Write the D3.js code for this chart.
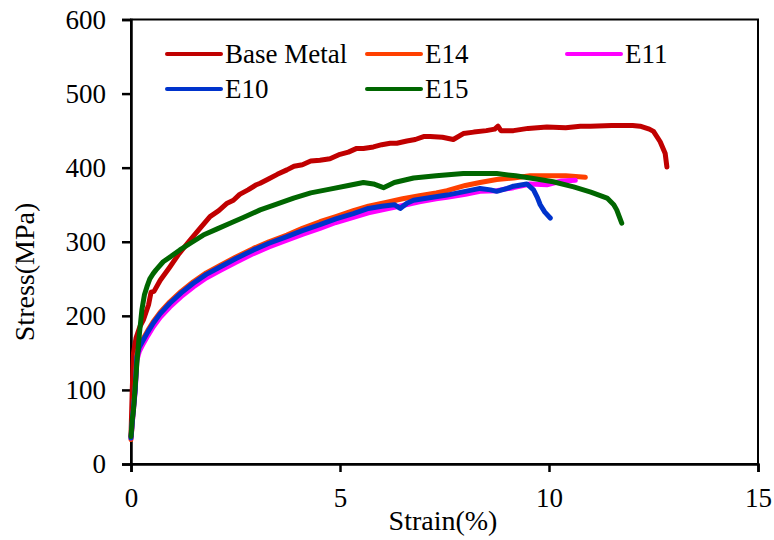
<!DOCTYPE html>
<html>
<head>
<meta charset="utf-8">
<script src="https://cdn.jsdelivr.net/npm/d3@7"></script>
</head>
<body style="margin:0">
<svg id="chart" width="774" height="540"></svg>
<script>
// strain (%) , stress (MPa)
const baseMetal = [[0,38],[0.03,100],[0.06,150],[0.12,170],[0.21,185],[0.3,195],[0.42,215],[0.48,232],[0.55,233],[0.7,248],[0.93,266],[1.15,284],[1.41,302],[1.65,318],[1.89,334],[2.1,342],[2.3,352],[2.45,356],[2.6,364],[2.8,370],[3.0,377],[3.09,379],[3.3,385],[3.5,391],[3.73,397],[3.9,402],[4.1,404],[4.3,409],[4.52,410],[4.76,412],[5.0,418],[5.2,421],[5.4,426],[5.56,426],[5.8,428],[6.0,431],[6.2,433],[6.36,433],[6.6,436],[6.8,438],[7.0,442],[7.16,442],[7.45,441],[7.71,438],[7.95,446],[8.2,448],[8.5,450],[8.7,452],[8.78,456],[8.85,450],[9.15,450],[9.5,453],[9.95,455],[10.4,454],[10.75,456],[10.99,456],[11.5,457],[12.0,457],[12.18,456],[12.4,452],[12.5,449],[12.66,435],[12.78,419],[12.82,401]];
const e14 = [[0,33],[0.05,70],[0.1,105],[0.14,148],[0.2,160],[0.29,169],[0.4,180],[0.53,192],[0.7,205],[0.93,219],[1.2,233],[1.49,246],[1.8,258],[2.13,268],[2.5,279],[2.93,291],[3.3,300],[3.73,309],[4.1,318],[4.52,327],[4.9,334],[5.32,342],[5.68,348],[6.1,353],[6.5,358],[6.9,362],[7.3,366],[7.56,369],[8.0,376],[8.35,380],[8.75,384],[9.15,386],[9.55,389],[10.0,389],[10.4,389],[10.87,387]];
const e11 = [[0,35],[0.05,68],[0.1,98],[0.14,140],[0.2,152],[0.29,162],[0.4,173],[0.53,185],[0.7,198],[0.93,212],[1.2,226],[1.49,239],[1.8,251],[2.13,261],[2.5,272],[2.93,284],[3.3,293],[3.73,302],[4.1,310],[4.52,318],[4.9,326],[5.32,333],[5.68,339],[6.1,344],[6.5,349],[6.9,354],[7.3,358],[7.56,360],[8.0,364],[8.35,368],[8.75,369],[9.15,373],[9.55,378],[9.95,377],[10.3,382],[10.63,383]];
const e10 = [[0,35],[0.05,70],[0.1,100],[0.14,145],[0.2,158],[0.29,167],[0.4,178],[0.53,190],[0.7,203],[0.93,217],[1.2,231],[1.49,244],[1.8,256],[2.13,266],[2.5,277],[2.93,289],[3.3,298],[3.73,307],[4.1,315],[4.52,323],[4.9,331],[5.32,338],[5.68,345],[6.0,348],[6.3,350],[6.44,345],[6.6,352],[6.76,356],[7.1,359],[7.56,363],[8.0,368],[8.35,372],[8.6,370],[8.75,368],[9.0,372],[9.15,375],[9.47,378],[9.63,370],[9.72,360],[9.79,350],[9.9,340],[10.03,332]];
const e15 = [[0,37],[0.03,60],[0.06,73],[0.1,105],[0.14,136],[0.2,175],[0.26,208],[0.32,228],[0.38,239],[0.45,250],[0.53,257],[0.6,262],[0.77,273],[0.95,280],[1.17,289],[1.45,299],[1.73,309],[2.05,317],[2.37,325],[2.7,333],[3.09,343],[3.45,350],[3.89,359],[4.3,366],[4.76,371],[5.2,376],[5.56,380],[5.8,378],[6.04,373],[6.3,380],[6.76,386],[7.3,389],[7.95,392],[8.75,392],[9.2,389],[9.55,386],[10.1,381],[10.59,374],[11.0,367],[11.39,359],[11.55,350],[11.62,343],[11.74,325]];

const seriesNames = ['Base Metal', 'E14', 'E11', 'E10', 'E15'];
const seriesData = [baseMetal, e14, e11, e10, e15];
const seriesColors = ['#C00000', '#FF4000', '#FF00FF', '#0033CC', '#006600'];
const xTicks = [0, 5, 10, 15];
const yTicks = [0, 100, 200, 300, 400, 500, 600];

const width = 774, height = 540;
const margin = { top: 19.5, right: 16, bottom: 76, left: 131 };
const innerWidth = width - margin.left - margin.right;
const innerHeight = height - margin.top - margin.bottom;

const svg = d3.select('#chart');
const g = svg.append('g').attr('transform', `translate(${margin.left},${margin.top})`);

const x = d3.scaleLinear().domain([0, 15]).range([0, innerWidth]);
const y = d3.scaleLinear().domain([0, 600]).range([innerHeight, 0]);

// frame (top / right)
g.append('rect')
  .attr('width', innerWidth).attr('height', innerHeight)
  .attr('fill', 'none').attr('stroke', '#000').attr('stroke-width', 2);

// axes
const xAxis = g.append('g').attr('transform', `translate(0,${innerHeight})`)
  .call(d3.axisBottom(x).tickValues(xTicks).tickSize(8).tickPadding(16));
const yAxis = g.append('g')
  .call(d3.axisLeft(y).tickValues(yTicks).tickSize(9).tickPadding(16));

[xAxis, yAxis].forEach(a => {
  a.selectAll('path, line').attr('stroke', '#000').attr('stroke-width', 2.5);
  a.selectAll('text')
    .style('font-family', d => '"Times New Roman"')
    .style('font-size', '27px')
    .attr('fill', '#000');
});

// lines
const line = d3.line().x(d => x(d[0])).y(d => y(d[1]));
g.selectAll('.curve')
  .data(seriesData)
  .enter()
  .append('path')
  .attr('class', 'curve')
  .attr('d', line)
  .attr('fill', 'none')
  .attr('stroke', (d, i) => seriesColors[i])
  .attr('stroke-width', 5)
  .attr('stroke-linejoin', 'round')
  .attr('stroke-linecap', 'round');

// axis titles
const titles = [
  { text: 'Strain(%)', transform: 'translate(443,530)' },
  { text: 'Stress(MPa)', transform: 'translate(34,272) rotate(-90)' }
];
svg.selectAll('.title')
  .data(titles)
  .enter()
  .append('text')
  .attr('class', 'title')
  .attr('transform', d => d.transform)
  .attr('text-anchor', 'middle')
  .style('font-family', d => '"Times New Roman"')
  .style('font-size', '28px')
  .text(d => d.text);

// legend
const legendPos = [[167, 54], [367, 54], [567, 54], [167, 89], [367, 89]];
const legend = svg.selectAll('.legend')
  .data(seriesNames)
  .enter()
  .append('g')
  .attr('class', 'legend')
  .attr('transform', (d, i) => `translate(${legendPos[i][0]},${legendPos[i][1]})`);
legend.append('line')
  .attr('x1', 0).attr('x2', 54)
  .attr('stroke', (d, i) => seriesColors[i])
  .attr('stroke-width', 4).attr('stroke-linecap', 'round');
legend.append('text')
  .attr('x', 58).attr('y', 9)
  .style('font-family', d => '"Times New Roman"')
  .style('font-size', '27px')
  .text(d => d);
</script>
</body>
</html>
